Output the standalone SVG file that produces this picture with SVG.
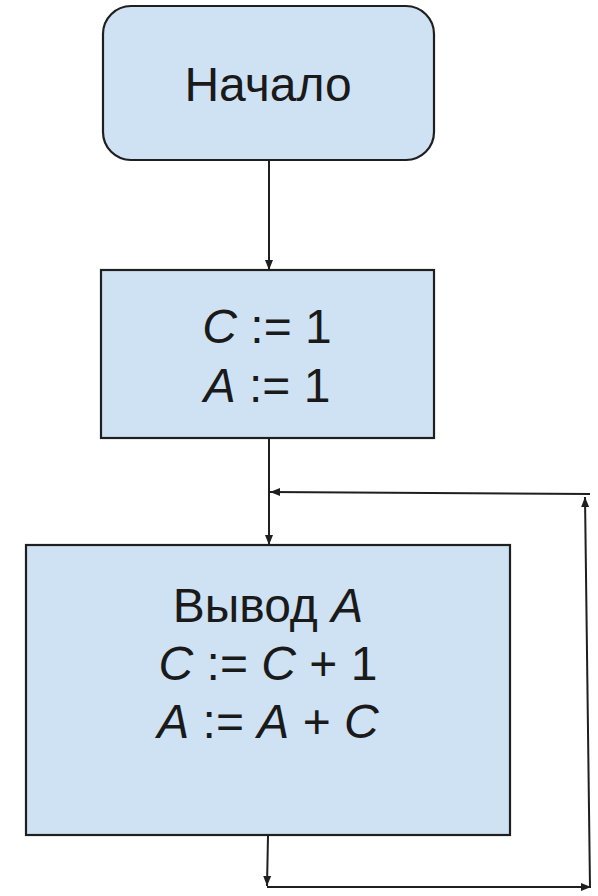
<svg xmlns="http://www.w3.org/2000/svg" width="598" height="896" viewBox="0 0 598 896">
<style>
.box{fill:#cfe2f3;stroke:#1f1f1f;stroke-width:2.2}
.t{font-family:"Liberation Sans",Arial,sans-serif;font-size:48px;fill:#1a1a1a;text-anchor:middle}
.v{font-style:italic}
.c{fill:none;stroke:#1f1f1f;stroke-width:2}
</style>
<defs>
<marker id="ah" viewBox="0 0 10 10" refX="10" refY="5" markerWidth="5" markerHeight="5" orient="auto-start-reverse" markerUnits="strokeWidth">
<path d="M0,1 L10,5 L0,9 z" fill="#1f1f1f"/>
</marker>
</defs>
<rect width="598" height="896" fill="#ffffff"/>
<g id="connectors">
<line class="c" x1="269" y1="161" x2="269" y2="270" marker-end="url(#ah)"/>
<line class="c" x1="269" y1="438" x2="269" y2="545" marker-end="url(#ah)"/>
<line class="c" x1="268" y1="836" x2="267" y2="886" marker-end="url(#ah)"/>
<line class="c" x1="267" y1="887" x2="591" y2="887" marker-end="url(#ah)"/>
<line class="c" x1="590" y1="887" x2="585" y2="497" marker-end="url(#ah)"/>
<line class="c" x1="590" y1="494" x2="270" y2="492" marker-end="url(#ah)"/>
</g>
<g id="start">
<rect class="box" x="103" y="6" width="331" height="154" rx="28"/>
<text class="t" x="268" y="101">Начало</text>
</g>
<g id="init">
<rect class="box" x="101" y="270" width="333" height="168"/>
<text class="t" x="267" y="343"><tspan class="v">C</tspan> := 1</text>
<text class="t" x="267" y="402"><tspan class="v">A</tspan> := 1</text>
</g>
<g id="body">
<rect class="box" x="26" y="545" width="484" height="290"/>
<text class="t" x="268" y="622">Вывод <tspan class="v">A</tspan></text>
<text class="t" x="268" y="680"><tspan class="v">C</tspan> := <tspan class="v">C</tspan> + 1</text>
<text class="t" x="268" y="738"><tspan class="v">A</tspan> := <tspan class="v">A</tspan> + <tspan class="v">C</tspan></text>
</g>
</svg>
